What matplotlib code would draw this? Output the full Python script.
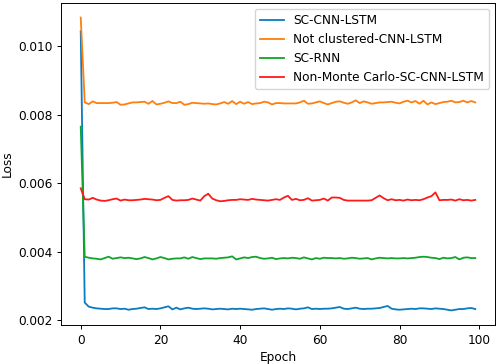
import matplotlib
matplotlib.use("Agg")
import matplotlib.pyplot as plt
import numpy as np

epochs = list(range(100))

sc_cnn_lstm = [0.01044, 0.00251, 0.00239, 0.00236, 0.00234, 0.00233, 0.00232, 0.00232, 0.00234, 0.00234,
               0.00232, 0.00233, 0.00230, 0.00232, 0.00233, 0.00235, 0.00237, 0.00232, 0.00233, 0.00232,
               0.00234, 0.00237, 0.00240, 0.00231, 0.00236, 0.00231, 0.00234, 0.00236, 0.00233, 0.00232,
               0.00233, 0.00234, 0.00233, 0.00231, 0.00232, 0.00233, 0.00232, 0.00231, 0.00233, 0.00232,
               0.00233, 0.00232, 0.00231, 0.00230, 0.00232, 0.00233, 0.00234, 0.00232, 0.00230, 0.00232,
               0.00233, 0.00232, 0.00234, 0.00233, 0.00231, 0.00233, 0.00234, 0.00237, 0.00232, 0.00233,
               0.00232, 0.00233, 0.00233, 0.00234, 0.00236, 0.00238, 0.00233, 0.00232, 0.00234, 0.00236,
               0.00233, 0.00232, 0.00233, 0.00233, 0.00234, 0.00235, 0.00238, 0.00241, 0.00233, 0.00231,
               0.00230, 0.00231, 0.00232, 0.00233, 0.00232, 0.00234, 0.00234, 0.00233, 0.00232, 0.00234,
               0.00233, 0.00232, 0.00230, 0.00228, 0.00230, 0.00232, 0.00232, 0.00234, 0.00235, 0.00232]

not_clustered = [0.01084, 0.00836, 0.00831, 0.00839, 0.00834, 0.00834, 0.00834, 0.00834, 0.00835, 0.00837,
                 0.00829, 0.00830, 0.00833, 0.00836, 0.00836, 0.00837, 0.00838, 0.00832, 0.00840, 0.00830,
                 0.00832, 0.00835, 0.00839, 0.00834, 0.00834, 0.00838, 0.00829, 0.00831, 0.00835, 0.00834,
                 0.00833, 0.00832, 0.00833, 0.00831, 0.00830, 0.00833, 0.00837, 0.00832, 0.00840, 0.00831,
                 0.00838, 0.00832, 0.00837, 0.00831, 0.00833, 0.00834, 0.00838, 0.00836, 0.00830, 0.00834,
                 0.00834, 0.00833, 0.00833, 0.00833, 0.00833, 0.00836, 0.00841, 0.00832, 0.00833, 0.00836,
                 0.00839, 0.00834, 0.00830, 0.00834, 0.00838, 0.00839, 0.00835, 0.00832, 0.00836, 0.00842,
                 0.00834, 0.00839, 0.00836, 0.00832, 0.00834, 0.00836, 0.00836, 0.00837, 0.00838, 0.00835,
                 0.00833, 0.00838, 0.00841, 0.00836, 0.00840, 0.00832, 0.00841, 0.00830, 0.00836, 0.00831,
                 0.00834, 0.00837, 0.00838, 0.00841, 0.00836, 0.00837, 0.00841, 0.00836, 0.00840, 0.00836]

sc_rnn = [0.00765, 0.00385, 0.00382, 0.00380, 0.00379, 0.00377, 0.00381, 0.00385, 0.00379, 0.00381,
          0.00383, 0.00381, 0.00382, 0.00380, 0.00378, 0.00380, 0.00384, 0.00381, 0.00377, 0.00380,
          0.00384, 0.00381, 0.00377, 0.00379, 0.00380, 0.00380, 0.00383, 0.00379, 0.00384, 0.00381,
          0.00378, 0.00380, 0.00380, 0.00380, 0.00379, 0.00381, 0.00382, 0.00383, 0.00386, 0.00377,
          0.00380, 0.00383, 0.00381, 0.00384, 0.00385, 0.00381, 0.00379, 0.00380, 0.00382, 0.00378,
          0.00380, 0.00381, 0.00380, 0.00382, 0.00381, 0.00379, 0.00383, 0.00380, 0.00377, 0.00381,
          0.00379, 0.00382, 0.00381, 0.00381, 0.00380, 0.00381, 0.00379, 0.00380, 0.00382, 0.00381,
          0.00379, 0.00380, 0.00381, 0.00377, 0.00380, 0.00382, 0.00381, 0.00380, 0.00381, 0.00380,
          0.00380, 0.00381, 0.00380, 0.00381, 0.00382, 0.00384, 0.00385, 0.00384, 0.00382, 0.00381,
          0.00378, 0.00382, 0.00380, 0.00381, 0.00384, 0.00377, 0.00382, 0.00383, 0.00381, 0.00381]

non_monte_carlo = [0.00585, 0.00553, 0.00552, 0.00557, 0.00552, 0.00549, 0.00548, 0.00550, 0.00553, 0.00555,
                   0.00549, 0.00552, 0.00550, 0.00550, 0.00551, 0.00552, 0.00554, 0.00553, 0.00552, 0.00550,
                   0.00551, 0.00557, 0.00562, 0.00551, 0.00549, 0.00550, 0.00550, 0.00551, 0.00555, 0.00552,
                   0.00549, 0.00562, 0.00569, 0.00555, 0.00550, 0.00547, 0.00548, 0.00550, 0.00551, 0.00551,
                   0.00553, 0.00552, 0.00551, 0.00554, 0.00552, 0.00551, 0.00550, 0.00549, 0.00551, 0.00553,
                   0.00551, 0.00558, 0.00563, 0.00551, 0.00554, 0.00550, 0.00551, 0.00556, 0.00549, 0.00550,
                   0.00551, 0.00555, 0.00549, 0.00558, 0.00558, 0.00557, 0.00551, 0.00549, 0.00549, 0.00549,
                   0.00549, 0.00549, 0.00549, 0.00550, 0.00557, 0.00564, 0.00556, 0.00550, 0.00553, 0.00550,
                   0.00551, 0.00549, 0.00552, 0.00550, 0.00551, 0.00550, 0.00553, 0.00558, 0.00562, 0.00573,
                   0.00550, 0.00551, 0.00551, 0.00552, 0.00549, 0.00553, 0.00550, 0.00551, 0.00549, 0.00551]

labels = ["SC-CNN-LSTM", "Not clustered-CNN-LSTM", "SC-RNN", "Non-Monte Carlo-SC-CNN-LSTM"]
colors = ["#0a7cc1", "#ff7f0e", "#12a52a", "#ff1a1a"]

s = 0.87
plt.rcParams.update({
    "font.size": 10 * s,
    "axes.linewidth": 0.8 * s,
    "xtick.major.size": 3.5 * s,
    "ytick.major.size": 3.5 * s,
    "xtick.major.width": 0.8 * s,
    "ytick.major.width": 0.8 * s,
    "xtick.major.pad": 3.5 * s,
    "ytick.major.pad": 3.5 * s,
    "axes.labelpad": 4.0 * s,
    "legend.fontsize": 10 * s,
})

fig = plt.figure(figsize=(4.98, 3.64), dpi=100)
ax = fig.add_axes([0.1225, 0.107, 0.8715, 0.885])
for series, lab, col in zip([sc_cnn_lstm, not_clustered, sc_rnn, non_monte_carlo], labels, colors):
    ax.plot(epochs, series, color=col, linewidth=1.5 * s, label=lab)

ax.set_xlabel("Epoch")
ax.set_ylabel("Loss")
ax.set_xticks([0, 20, 40, 60, 80, 100])
ax.set_yticks([0.002, 0.004, 0.006, 0.008, 0.010])
ax.legend(loc="upper right")
fig.savefig("out.png", dpi=100)
